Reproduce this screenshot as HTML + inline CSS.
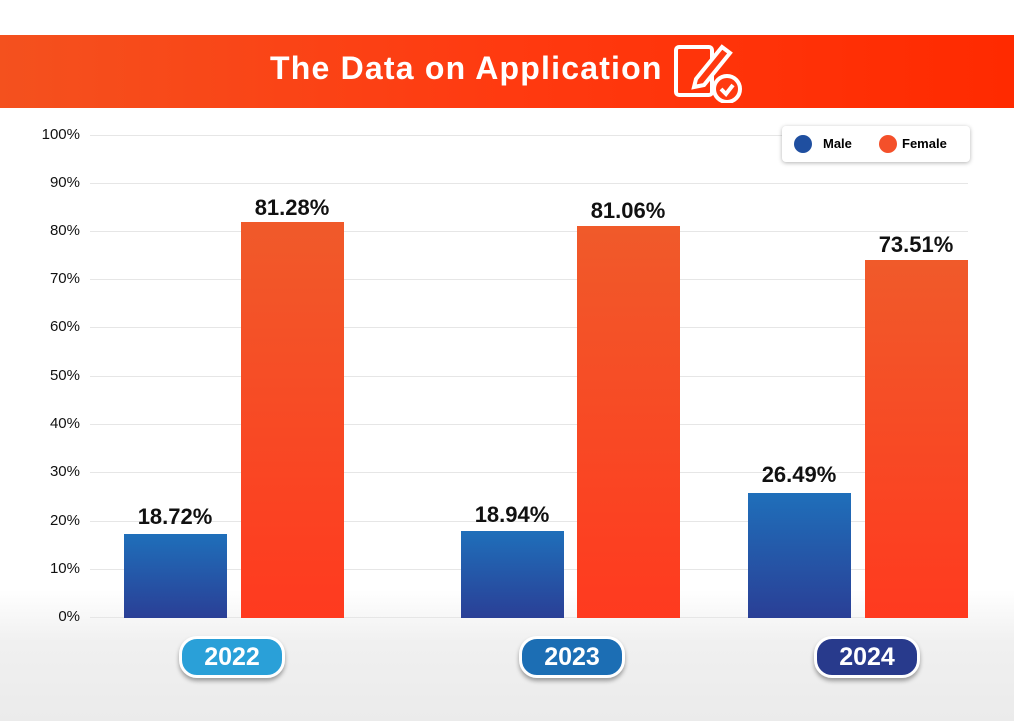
<!DOCTYPE html>
<html><head><style>
body{margin:0;width:1014px;height:721px;background:#fff;position:relative;overflow:hidden;font-family:"Liberation Sans",sans-serif}
.hdr{position:absolute;left:0;top:35px;width:1014px;height:73px;background:linear-gradient(90deg,#f4511e,#ff3a10 50%,#ff2a00)}
.hdr .t{position:absolute;left:270px;top:15px;color:#fff;font-weight:bold;font-size:32px;letter-spacing:1.2px}
.bg{position:absolute;left:0;top:590px;width:1014px;height:131px;background:linear-gradient(#fff,#f0f0f0 40%,#ebebeb)}
.g{position:absolute;left:90px;width:878px;height:1px;background:#e6e6e6}
.yl{position:absolute;left:28px;width:52px;text-align:right;font-size:15px;color:#111}
.bar{position:absolute;width:103px}
.m{background:linear-gradient(#1f6fba,#2a3f96)}
.f{background:linear-gradient(#f05a2a,#ff3a1f)}
.v{position:absolute;width:160px;text-align:center;font-size:22px;font-weight:bold;color:#111}
.pill{position:absolute;top:636px;width:100px;height:36px;border-radius:18px;border:3px solid #fff;box-shadow:0 3px 4px rgba(0,0,0,.35);color:#fff;font-weight:bold;font-size:25px;text-align:center;line-height:36px}
.leg{position:absolute;left:782px;top:126px;width:188px;height:36px;background:#fff;border-radius:4px;box-shadow:0 1px 4px rgba(0,0,0,.3);font-size:13px;font-weight:bold}
.dot{position:absolute;top:9px;width:18px;height:18px;border-radius:50%}
</style></head><body>
<div class="hdr"><div class="t">The Data on Application</div>
<svg style="position:absolute;left:672px;top:6px" width="72" height="62" viewBox="0 0 72 62"><rect x="4" y="6" width="36" height="48" rx="3" fill="none" stroke="#fff" stroke-width="4"/><path d="M24 38 L50 6 L58 12 L32 44 L22 46 Z" fill="#ff3a10" stroke="#fff" stroke-width="4"/><circle cx="55" cy="48" r="13" fill="#ff3a10" stroke="#fff" stroke-width="4"/><path d="M49 48 L54 53 L61 44" fill="none" stroke="#fff" stroke-width="4"/></svg></div>
<div class="bg"></div>
<div class="g" style="top:135px"></div><div class="g" style="top:183px"></div><div class="g" style="top:231px"></div><div class="g" style="top:279px"></div><div class="g" style="top:327px"></div><div class="g" style="top:376px"></div><div class="g" style="top:424px"></div><div class="g" style="top:472px"></div><div class="g" style="top:521px"></div><div class="g" style="top:569px"></div><div class="g" style="top:617px"></div>
<div class="yl" style="top:126px">100%</div><div class="yl" style="top:174px">90%</div><div class="yl" style="top:222px">80%</div><div class="yl" style="top:270px">70%</div><div class="yl" style="top:318px">60%</div><div class="yl" style="top:367px">50%</div><div class="yl" style="top:415px">40%</div><div class="yl" style="top:463px">30%</div><div class="yl" style="top:512px">20%</div><div class="yl" style="top:560px">10%</div><div class="yl" style="top:608px">0%</div>
<div class="bar m" style="left:124px;top:534px;height:84px"></div>
<div class="bar f" style="left:241px;top:222px;height:396px"></div>
<div class="bar m" style="left:461px;top:531px;height:87px"></div>
<div class="bar f" style="left:577px;top:226px;height:392px"></div>
<div class="bar m" style="left:748px;top:493px;height:125px"></div>
<div class="bar f" style="left:865px;top:260px;height:358px"></div>
<div class="v" style="left:95px;top:504px">18.72%</div>
<div class="v" style="left:212px;top:195px">81.28%</div>
<div class="v" style="left:432px;top:502px">18.94%</div>
<div class="v" style="left:548px;top:198px">81.06%</div>
<div class="v" style="left:719px;top:462px">26.49%</div>
<div class="v" style="left:836px;top:232px">73.51%</div>
<div class="pill" style="left:179px;background:#2aa0d8">2022</div>
<div class="pill" style="left:519px;background:#1c6eb4">2023</div>
<div class="pill" style="left:814px;background:#283a8c">2024</div>
<div class="leg"><div class="dot" style="left:12px;background:#1f4fa0"></div><span style="position:absolute;left:41px;top:10px">Male</span><div class="dot" style="left:97px;background:#f4502a"></div><span style="position:absolute;left:120px;top:10px">Female</span></div>
</body></html>
